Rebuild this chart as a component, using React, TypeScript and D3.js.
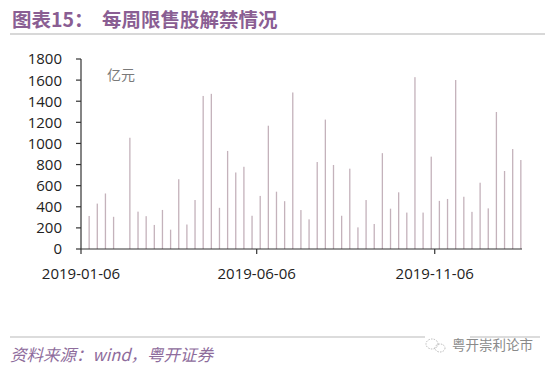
import React from "react";
import * as d3 from "d3";

const weekDates: string[] = [
  "2019-01-13","2019-01-20","2019-01-27","2019-02-03","2019-02-10","2019-02-17","2019-02-24","2019-03-03","2019-03-10","2019-03-17",
  "2019-03-24","2019-03-31","2019-04-07","2019-04-14","2019-04-21","2019-04-28","2019-05-05","2019-05-12","2019-05-19","2019-05-26",
  "2019-06-02","2019-06-09","2019-06-16","2019-06-23","2019-06-30","2019-07-07","2019-07-14","2019-07-21","2019-07-28","2019-08-04",
  "2019-08-11","2019-08-18","2019-08-25","2019-09-01","2019-09-08","2019-09-15","2019-09-22","2019-09-29","2019-10-06","2019-10-13",
  "2019-10-20","2019-10-27","2019-11-03","2019-11-10","2019-11-17","2019-11-24","2019-12-01","2019-12-08","2019-12-15","2019-12-22",
  "2019-12-29","2020-01-05","2020-01-12","2020-01-19",
];

const unlockValues: number[] = [
  313, 430, 526, 305, 0, 1054, 354, 311, 228, 370,
  183, 661, 232, 464, 1450, 1470, 390, 929, 725, 779,
  315, 503, 1168, 543, 453, 1483, 369, 281, 824, 1226,
  796, 315, 761, 205, 464, 237, 908, 382, 537, 345,
  1628, 345, 875, 456, 474, 1601, 495, 352, 628, 385,
  1298, 739, 947, 843,
];

const yTicks: number[] = [0, 200, 400, 600, 800, 1000, 1200, 1400, 1600, 1800];
const xTickLabels: string[] = ["2019-01-06", "2019-06-06", "2019-11-06"];
const axisStart = "2019-01-06";
const axisEnd = "2020-01-20";

const titleLabel = "图表15：";
const titleText = "每周限售股解禁情况";
const unitLabel = "亿元";
const sourceText = "资料来源：wind，粤开证券";
const watermark = "粤开崇利论市";

const parse = d3.timeParse("%Y-%m-%d");

export default function App() {
  const W = 550, H = 367;
  const left = 81, right = 522, top = 59, bottom = 249;

  const x = d3.scaleTime()
    .domain([parse(axisStart)!, parse(axisEnd)!])
    .range([left, right]);
  const y = d3.scaleLinear().domain([0, 1800]).range([bottom, top]);

  const font = "'Open Sans', 'Noto Sans', sans-serif";
  const cjk = "'Noto Sans CJK SC', 'Noto Sans', sans-serif";
  const barW = 1.3;

  return (
    <svg width={W} height={H} viewBox={`0 0 ${W} ${H}`}
      style={{ position: "absolute", left: 0, top: 0, background: "#fff" }}>
      {/* title */}
      <text x={12} y={27} fontFamily={cjk} fontSize={19.5} fontWeight="bold" fill="#8a5e93">
        {titleLabel}
      </text>
      <text x={102} y={27} fontFamily={cjk} fontSize={19.5} fontWeight="bold" fill="#8a5e93">
        {titleText}
      </text>
      <line x1={10} x2={545} y1={34} y2={34} stroke="#d8d8d8" strokeWidth={2} />

      {/* unit */}
      <text x={107} y={80} fontFamily={cjk} fontSize={14} fill="#7a7a7a">{unitLabel}</text>

      {/* bars */}
      {unlockValues.map((v, i) => {
        const cx = x(parse(weekDates[i])!);
        return (
          <rect key={i} x={cx - barW / 2} y={y(v)} width={barW} height={bottom - y(v)}
            fill="#c4b2bb" />
        );
      })}

      {/* y axis */}
      <line x1={left} x2={left} y1={top} y2={bottom} stroke="#333" strokeWidth={1.2} />
      {yTicks.map((t) => (
        <g key={t}>
          <line x1={left - 5} x2={left} y1={y(t)} y2={y(t)} stroke="#333" strokeWidth={1.2} />
          <text x={62} y={y(t)} dy="0.36em" textAnchor="end" fontFamily={font} fontSize={15} fill="#222">
            {t}
          </text>
        </g>
      ))}

      {/* x axis */}
      <line x1={left} x2={right} y1={bottom} y2={bottom} stroke="#333" strokeWidth={1.2} />
      {xTickLabels.map((d) => {
        const px = x(parse(d)!);
        return (
          <g key={d}>
            <line x1={px} x2={px} y1={bottom} y2={bottom + 5} stroke="#333" strokeWidth={1.2} />
            <text x={px} y={279} textAnchor="middle" fontFamily={font} fontSize={15} fill="#222">
              {d}
            </text>
          </g>
        );
      })}

      {/* footer */}
      <line x1={10} x2={425} y1={337} y2={337} stroke="#d0d0d0" strokeWidth={1.5} />
      <line x1={470} x2={540} y1={337} y2={337} stroke="#d0d0d0" strokeWidth={1.5} />
      <text x={10} y={361} fontFamily={cjk} fontSize={16.5} fontStyle="italic" fill="#8e6c9c">
        {sourceText}
      </text>
      <g fill="none" stroke="#aaa" strokeWidth={0.8}>
        <ellipse cx={432} cy={344} rx={6} ry={5} strokeDasharray="1.5 1.2" />
        <ellipse cx={440} cy={348} rx={5} ry={4} strokeDasharray="1.5 1.2" />
      </g>
      <text x={452} y={350} fontFamily={cjk} fontSize={13.5} fill="#8a8a8a">{watermark}</text>
    </svg>
  );
}
